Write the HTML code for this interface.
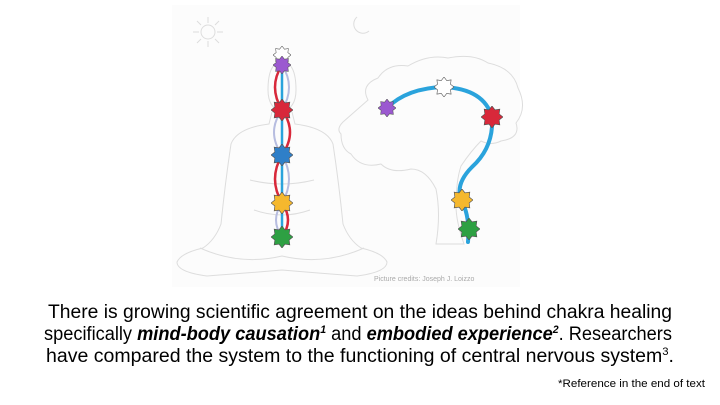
<!DOCTYPE html>
<html><head><meta charset="utf-8"><style>
html,body{margin:0;padding:0;background:#fff;}
svg{display:block;}
</style></head><body>
<svg width="720" height="405" viewBox="0 0 720 405" xmlns="http://www.w3.org/2000/svg" font-family="Liberation Sans, sans-serif">
<defs>
<symbol id="st" viewBox="-10 -10 20 20">
<polygon points="0,-10 2.7,-6.5 7.1,-7.1 6.5,-2.7 10,0 6.5,2.7 7.1,7.1 2.7,6.5 0,10 -2.7,6.5 -7.1,7.1 -6.5,2.7 -10,0 -6.5,-2.7 -7.1,-7.1 -2.7,-6.5"/>
</symbol>
</defs>
<rect x="172" y="5" width="348" height="282" fill="#fcfcfc"/>
<g stroke="#ddd" fill="none" stroke-width="1"><circle cx="208" cy="32" r="7"/>
<path d="M208 17v6M208 41v6M193 32h6M217 32h6M197 21l4 4M215 39l4 4M219 21l-4 4M201 39l-4 4"/></g>
<path d="M357 17 a9 9 0 1 0 12 14 a8 8 0 0 1 -12 -14z" fill="none" stroke="#ddd"/>
<g stroke="#ddd" fill="none" stroke-width="1">
<path d="M268 90 q0 -28 14 -28 q14 0 14 28 q0 18 -14 22 q-14 -4 -14 -22z"/>
<path d="M272 112 l-3 12 q-32 4 -38 20 q-6 40 -10 80 q-6 16 -18 24 q-22 5 -26 14 q0 10 30 14 q40 -3 75 -6 q35 3 75 6 q30 -4 30 -14 q-4 -9 -26 -14 q-12 -8 -18 -24 q-4 -40 -10 -80 q-6 -16 -38 -20 l-3 -12"/>
<path d="M200 248 q40 18 82 8 q42 10 82 -8"/>
<path d="M250 180 q32 8 64 0M254 210 q28 10 56 0"/>
</g>
<g stroke="#ddd" fill="none" stroke-width="1">
<path d="M368 100 q-8 -15 10 -22 q10 -15 30 -12 q20 -12 40 -8 q25 -5 40 5 q25 5 30 25 q10 20 -2 35 q5 15 -15 18 q-10 5 -20 0 q-10 10 -20 25 q-5 15 -5 40 q0 15 8 38 l-28 0 q5 -30 0 -55 q-10 -20 -25 -20 q-20 5 -30 -5 q-20 5 -30 -10 q-10 -5 -10 -20 q-5 -5 2 -12z"/>
</g>
<g fill="none" stroke-linecap="round">
<path d="M282 65 q-14 22 0 45 q16 22 0 45 q-14 24 0 48 q12 17 0 34" stroke="#b7bde0" stroke-width="2"/>
<path d="M282 65 q14 22 0 45 q-16 22 0 45 q14 24 0 48 q-12 17 0 34" stroke="#b7bde0" stroke-width="2"/>
<path d="M282 65 q-14 22 0 45 q16 22 0 45 q-14 24 0 48 q12 17 0 34" stroke="#d8283a" stroke-width="2.5"/>
<line x1="282" y1="60" x2="282" y2="240" stroke="#2aa3dc" stroke-width="2.5"/>
<path d="M387 108 q20 -20 57 -21 q40 2 48 30 q2 30 -20 50 q-18 18 -10 35 q8 14 6 40" stroke="#2aa3dc" stroke-width="4"/>
</g>
<g stroke="#555" stroke-width="0.6">
<use href="#st" x="273" y="46" width="18" height="18" fill="#fff"/>
<use href="#st" x="273" y="56" width="18" height="18" fill="#9b59d0"/>
<use href="#st" x="271" y="99" width="22" height="22" fill="#d8283a"/>
<use href="#st" x="271" y="144" width="22" height="22" fill="#2f7fc8"/>
<use href="#st" x="271" y="192" width="22" height="22" fill="#f5b82e"/>
<use href="#st" x="271" y="226" width="22" height="22" fill="#2ea043"/>
<use href="#st" x="378" y="99" width="18" height="18" fill="#9b59d0"/>
<use href="#st" x="434" y="77" width="20" height="20" fill="#fff"/>
<use href="#st" x="481" y="106" width="22" height="22" fill="#d8283a"/>
<use href="#st" x="451" y="189" width="22" height="22" fill="#f5b82e"/>
<use href="#st" x="458" y="218" width="22" height="22" fill="#2ea043"/>
</g>
<text x="374" y="281" font-size="7" fill="#aaa">Picture credits: Joseph J. Loizzo</text>
<g font-size="19" fill="#000">
<text x="48" y="318" textLength="624" lengthAdjust="spacingAndGlyphs">There is growing scientific agreement on the ideas behind chakra healing</text>
<text x="44" y="340" textLength="628" lengthAdjust="spacingAndGlyphs">specifically <tspan font-weight="bold" font-style="italic">mind-body causation<tspan font-size="11" dy="-7">1</tspan></tspan><tspan dy="7"> and </tspan><tspan font-weight="bold" font-style="italic">embodied experience<tspan font-size="11" dy="-7">2</tspan></tspan><tspan dy="7">. Researchers</tspan></text>
<text x="46" y="362" textLength="628" lengthAdjust="spacingAndGlyphs">have compared the system to the functioning of central nervous system<tspan font-size="11" dy="-7">3</tspan><tspan dy="7">.</tspan></text>
</g>
<text x="558" y="387" font-size="11" textLength="147" lengthAdjust="spacingAndGlyphs">*Reference in the end of text</text>
</svg>
</body></html>
